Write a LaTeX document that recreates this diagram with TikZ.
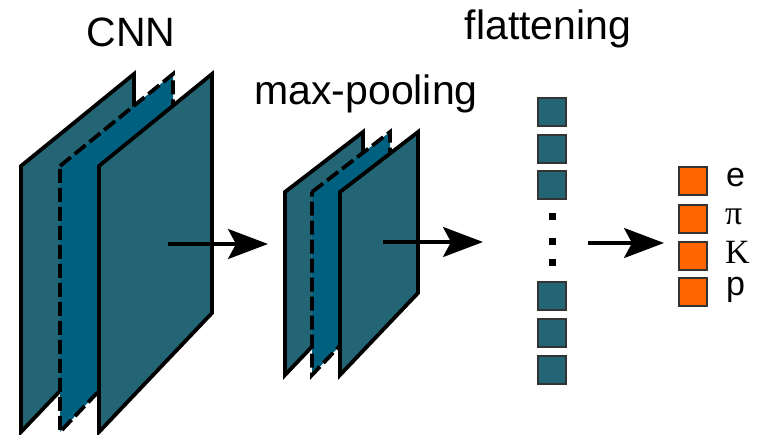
\documentclass[tikz,border=0pt]{standalone}
\usepackage{fontspec}
\setmainfont{Liberation Sans}
\newfontfamily\serifpart{Liberation Serif}
\usetikzlibrary{arrows.meta}
\definecolor{panelteal}{HTML}{236574}
\definecolor{midteal}{HTML}{006080}
\definecolor{outorange}{HTML}{FF6600}
\definecolor{boxedge}{HTML}{333333}
\tikzset{
  panel/.style={fill=panelteal, draw=black, line width=3.8pt, line join=miter},
  midpanel/.style={fill=midteal, draw=black, line width=3.8pt, dash pattern=on 14pt off 5pt},
  flatbox/.style={rectangle, minimum size=28pt, inner sep=0pt, fill=panelteal, draw=boxedge, line width=2pt},
  outbox/.style={rectangle, minimum size=28pt, inner sep=0pt, fill=outorange, draw=boxedge, line width=2pt},
  dotbox/.style={rectangle, minimum size=7pt, inner sep=0pt, fill=black},
  bigarrow/.style={line width=3.2pt, -{Stealth[length=40pt, width=30pt, inset=8pt]}},
  title/.style={anchor=base, inner sep=0pt, font=\fontsize{41}{48}\selectfont},
  lab/.style={anchor=base west, inner sep=0pt, font=\fontsize{34}{40}\selectfont},
  slab/.style={anchor=base west, inner sep=0pt, font=\serifpart\fontsize{34}{40}\selectfont}
}
\begin{document}
\begin{tikzpicture}[x=1pt, y=-1pt]
\useasboundingbox (0,0) rectangle (763,435);
% CNN panels
\draw[panel] (21,166) -- (134,74) -- (134,313) -- (21,432) -- cycle;
\draw[midpanel] (60,166) -- (173,74) -- (173,313) -- (60,432) -- cycle;
\draw[panel] (99,166) -- (212,74) -- (212,313) -- (99,432) -- cycle;
% max-pooling panels
\draw[panel] (285,192) -- (363,132) -- (363,293) -- (285,375) -- cycle;
\draw[midpanel] (312,192) -- (390,132) -- (390,293) -- (312,375) -- cycle;
\draw[panel] (340,192) -- (418,132) -- (418,293) -- (340,375) -- cycle;
% titles
\node[title] (tcnn) at (131,47) {CNN};
\node[title] (tpool) at (366,105) {max-pooling};
\node[title] (tflat) at (548,40) {flattening};
% flattening boxes
\node[flatbox] (f1) at (552,112) {};
\node[flatbox] (f2) at (552,149) {};
\node[flatbox] (f3) at (552,185) {};
\node[dotbox] (d1) at (552,216.5) {};
\node[dotbox] (d2) at (552,242) {};
\node[dotbox] (d3) at (552,263) {};
\node[flatbox] (f4) at (552,296) {};
\node[flatbox] (f5) at (552,333) {};
\node[flatbox] (f6) at (552,370) {};
% output boxes
\node[outbox] (o1) at (692.5,181.5) {};
\node[outbox] (o2) at (692.5,219) {};
\node[outbox] (o3) at (692.5,256) {};
\node[outbox] (o4) at (692.5,292.5) {};
\node[lab] (le) at (726,187) {e};
\node[slab] (lpi) at (725,225) {π};
\node[slab] (lk) at (725,264) {K};
\node[lab] (lp) at (726,296) {p};
% arrows
\coordinate (a1s) at (168,244);
\coordinate (a1e) at (268,244);
\coordinate (a2s) at (383,242);
\coordinate (a2e) at (483,242);
\coordinate (a3s) at (588,243);
\coordinate (a3e) at (664,243);
\draw[bigarrow] (a1s) -- (a1e);
\draw[bigarrow] (a2s) -- (a2e);
\draw[bigarrow] (a3s) -- (a3e);
\end{tikzpicture}
\end{document}
